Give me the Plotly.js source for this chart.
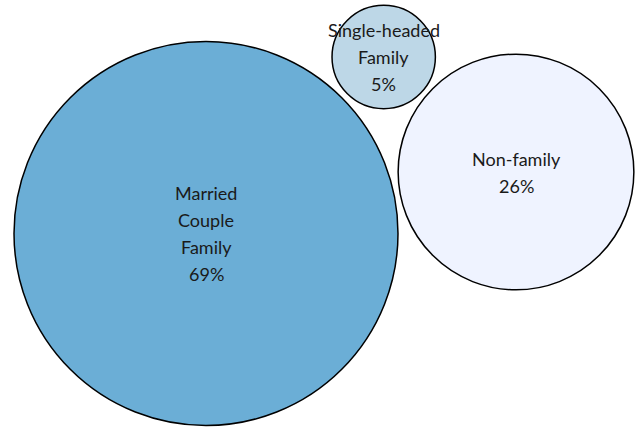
<!DOCTYPE html>
<html>
<head>
<meta charset="utf-8">
<script src="https://cdn.plot.ly/plotly-3.0.1.min.js"></script>
<style>html,body{margin:0;padding:0;background:#fff;}#chart{width:644px;height:427px;}</style>
</head>
<body>
<div id="chart"></div>
<script>
// ---- data ----
var categories = ['Married Couple Family', 'Single-headed Family', 'Non-family'];
var labelLines = [['Married', 'Couple', 'Family'], ['Single-headed', 'Family'], ['Non-family']];
var values = [69, 5, 26];

// ---- layout / style (not data) ----
var centers = [[206, 233.5], [383.7, 57], [516, 172]];
var radiusScale = 192 / Math.sqrt(69); // px per sqrt(percent)
var fills = ['#6baed6', '#bdd7e7', '#eff3ff'];
var lineGap = 27;
var fontSpec = {family: 'Lato, "Liberation Sans", sans-serif', size: 18, color: '#1a1a1a'};

var shapes = [];
var annotations = [];
for (var i = 0; i < values.length; i++) {
  var r = radiusScale * Math.sqrt(values[i]);
  var cx = centers[i][0], cy = centers[i][1];
  shapes.push({
    type: 'circle', xref: 'x', yref: 'y',
    x0: cx - r, x1: cx + r, y0: cy - r, y1: cy + r,
    fillcolor: fills[i], line: {color: '#000', width: 1.5}, layer: 'below'
  });
  var lines = labelLines[i].concat([values[i] + '%']);
  var n = lines.length;
  for (var j = 0; j < n; j++) {
    annotations.push({
      x: cx, y: cy, xref: 'x', yref: 'y', showarrow: false,
      text: lines[j], font: fontSpec,
      xanchor: 'center', yanchor: 'middle',
      yshift: -((j - (n - 1) / 2) * lineGap)
    });
  }
}

var layout = {
  width: 644, height: 427,
  margin: {l: 0, r: 0, t: 0, b: 0, pad: 0},
  paper_bgcolor: '#fff', plot_bgcolor: '#fff',
  xaxis: {range: [0, 644], visible: false, fixedrange: true},
  yaxis: {range: [427, 0], visible: false, fixedrange: true},
  showlegend: false,
  shapes: shapes,
  annotations: annotations
};

Plotly.newPlot('chart', [{x: [], y: [], type: 'scatter', mode: 'markers', hoverinfo: 'skip'}], layout, {displayModeBar: false, staticPlot: true});
</script>
</body>
</html>
